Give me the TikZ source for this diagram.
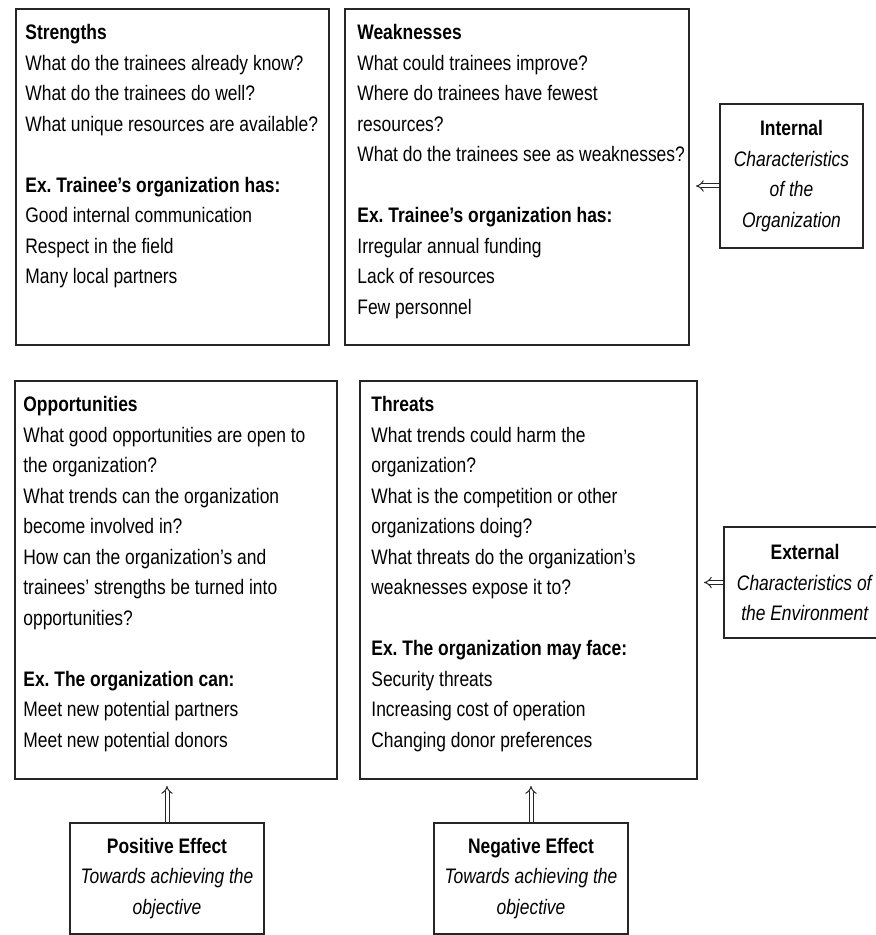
\documentclass[tikz,border=0pt]{standalone}
\usepackage{fontspec}
\setmainfont{Liberation Sans}[FakeStretch=0.83]
\usetikzlibrary{arrows.meta,positioning}
\frenchspacing
\tikzset{swot box/.style={rectangle,draw=black!85,line width=1pt,anchor=north west,inner sep=0pt},
         side box/.style={rectangle,draw=black!85,line width=1pt,align=center,inner sep=0pt,font=\fontsize{10.5}{15.25}\selectfont},
         box text/.style={anchor=north west,inner sep=0pt,align=left,font=\fontsize{10.5}{15.25}\selectfont},
         effect arrow/.style={double,double distance=1.5pt,line width=0.5pt,draw=black!85,-{Implies},shorten >=3pt}
}

\begin{document}
\begin{tikzpicture}[x=0.5pt,y=-0.5pt]
\useasboundingbox (0,0) rectangle (875,935);

% the four quadrants
\node[swot box,minimum width=156.5pt,minimum height=168pt] (S) at (15,8) {};
\node[swot box,minimum width=172pt,minimum height=168pt] (W) at (344,8) {};
\node[swot box,minimum width=161pt,minimum height=199pt] (O) at (14,380) {};
\node[swot box,minimum width=168.5pt,minimum height=199pt] (T) at (359,380) {};

\node[box text] (S text) at ([shift={(10,16)}]S.north west) {
    \textbf{Strengths}\\
    What do the trainees already know?\\
    What do the trainees do well?\\
    What unique resources are available?\\[15.25pt]
    \textbf{Ex. Trainee’s organization has:}\\
    Good internal communication\\
    Respect in the field\\
    Many local partners};
\node[box text] (W text) at ([shift={(13,16)}]W.north west) {
    \textbf{Weaknesses}\\
    What could trainees improve?\\
    Where do trainees have fewest\\
    resources?\\
    What do the trainees see as weaknesses?\\[15.25pt]
    \textbf{Ex. Trainee’s organization has:}\\
    Irregular annual funding\\
    Lack of resources\\
    Few personnel};
\node[box text] (O text) at ([shift={(9,16)}]O.north west) {
    \textbf{Opportunities}\\
    What good opportunities are open to\\
    the organization?\\
    What trends can the organization\\
    become involved in?\\
    How can the organization’s and\\
    trainees’ strengths be turned into\\
    opportunities?\\[15.25pt]
    \textbf{Ex. The organization can:}\\
    Meet new potential partners\\
    Meet new potential donors};
\node[box text] (T text) at ([shift={(12,16)}]T.north west) {
    \textbf{Threats}\\
    What trends could harm the\\
    organization?\\
    What is the competition or other\\
    organizations doing?\\
    What threats do the organization’s\\
    weaknesses expose it to?\\[15.25pt]
    \textbf{Ex. The organization may face:}\\
    Security threats\\
    Increasing cost of operation\\
    Changing donor preferences};

% side and bottom boxes
\node[side box,minimum width=71.5pt,minimum height=72pt] (I) at (791.5,176) {
    \textbf{Internal}\\ \textit{Characteristics}\\ \textit{of the}\\ \textit{Organization}};
\node[side box,minimum width=81pt,minimum height=55.5pt] (E) at (805,582.5) {
    \textbf{External}\\ \textit{Characteristics of}\\ \textit{the Environment}};
\node[side box,minimum width=97pt,minimum height=55.5pt] (P) at (167,878.5) {
    \textbf{Positive Effect}\\ \textit{Towards achieving the}\\ \textit{objective}};
\node[side box,minimum width=97pt,minimum height=55.5pt] (N) at (531,878.5) {
    \textbf{Negative Effect}\\ \textit{Towards achieving the}\\ \textit{objective}};

\draw[effect arrow] ([yshift=-5pt]I.west) -- ([yshift=-5pt]I.west -| W.east);
\draw[effect arrow] (E.west) -- (E.west -| T.east);
\draw[effect arrow] (P.north) -- (P.north |- O.south);
\draw[effect arrow] (N.north) -- (N.north |- T.south);
\end{tikzpicture}
\end{document}
